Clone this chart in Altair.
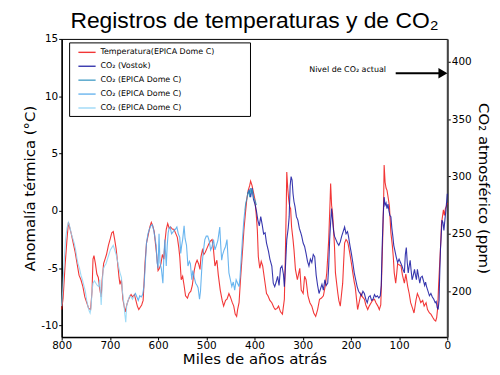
import altair as alt
import pandas as pd

TEMP_LABEL = "Temperatura(EPICA Dome C)"
VOSTOK_LABEL = "CO₂ (Vostok)"
EPICA1_LABEL = "CO₂ (EPICA Dome C)"
EPICA2_LABEL = "CO₂ (EPICA Dome C) "
EPICA3_LABEL = "CO₂ (EPICA Dome C)  "

series_labels = [TEMP_LABEL, VOSTOK_LABEL, EPICA1_LABEL, EPICA2_LABEL, EPICA3_LABEL]
series_colors = ["#f01414", "#1414a0", "#2f93c0", "#4fa8ec", "#8dd3f5"]

temp_age = [800, 797, 793, 789, 786, 783, 780, 776, 772, 768, 764, 760, 756, 752, 748, 744, 740, 737, 735, 733,
            730, 727, 724, 721, 718, 716, 713, 710, 707, 703, 699, 696, 693, 690, 687, 684, 681, 679, 676, 673,
            670, 668, 665, 662, 659, 656, 653, 649, 646, 643, 640, 637, 634, 631, 629, 627, 624, 620, 617, 614,
            611, 608, 605, 603, 600, 597, 594, 591, 588, 586, 583, 580, 577, 574, 570, 567, 563, 560, 557, 555,
            552, 549, 546, 543, 539, 536, 532, 529, 525, 522, 519, 516, 513, 511, 508, 505, 502, 498, 495, 491,
            488, 485, 482, 478, 475, 471, 467, 464, 460, 457, 453, 450, 446, 443, 440, 437, 435, 432, 429, 427,
            424, 422, 419, 416, 413, 410, 408, 405, 402, 399, 396, 394, 392, 389, 386, 383, 379, 375, 372, 368,
            364, 360, 357, 353, 350, 346, 342, 338, 336, 334, 333, 331, 329, 327, 325, 323, 320, 318, 315, 311,
            308, 306, 303, 299, 296, 293, 289, 285, 281, 277, 273, 269, 265, 261, 257, 253, 250, 248, 246, 243,
            242, 240, 238, 236, 234, 232, 229, 227, 225, 222, 220, 217, 215, 213, 210, 208, 206, 203, 201, 198,
            196, 193, 191, 188, 186, 183, 179, 176, 172, 169, 165, 162, 158, 155, 151, 148, 144, 141, 138, 136,
            134, 132, 131, 129, 127, 125, 122, 120, 117, 114, 112, 110, 107, 105, 103, 100, 96, 93, 89, 86,
            82, 79, 76, 72, 69, 65, 62, 58, 55, 51, 48, 44, 41, 37, 34, 30, 27, 24, 22, 20,
            18, 16, 14, 12, 10, 8, 6, 4, 2, 0]
temp_val = [-8.6, -7.6, -4.8, -2.5, -1.0, -1.5, -2.0, -2.8, -3.6, -4.6, -5.6, -6.0, -6.6, -7.5, -8.0, -8.5, -8.6, -7.0, -4.2, -3.9,
            -4.6, -5.5, -5.8, -6.8, -7.5, -6.0, -4.6, -4.2, -3.8, -3.0, -2.4, -1.9, -1.8, -2.5, -3.3, -4.5, -5.8, -6.4, -6.0, -7.7,
            -8.4, -8.8, -8.2, -7.8, -7.5, -7.3, -7.5, -7.3, -7.8, -8.3, -8.6, -8.4, -8.2, -7.8, -6.2, -4.5, -2.8, -2.0, -1.4, -1.0,
            -1.3, -1.8, -3.0, -3.8, -5.2, -5.0, -4.6, -3.8, -4.2, -2.8, -1.6, -1.1, -1.5, -1.4, -1.6, -1.6, -2.0, -2.3, -3.2, -4.0,
            -6.0, -5.7, -6.5, -7.4, -7.6, -7.2, -7.0, -6.5, -5.2, -4.6, -4.3, -4.6, -5.1, -4.0, -3.4, -3.8, -3.6, -3.2, -2.9, -2.6,
            -2.5, -3.4, -4.8, -4.3, -5.6, -6.9, -7.8, -8.3, -7.8, -7.7, -7.2, -7.5, -8.0, -8.3, -9.0, -9.2, -8.6, -8.0, -6.0, -4.8,
            -3.0, -1.7, -0.3, 1.0, 1.8, 2.2, 2.6, 2.2, 1.6, 1.0, -0.5, -1.7, -4.0, -5.0, -4.4, -4.8, -6.0, -7.2, -7.4, -7.8,
            -8.0, -8.4, -8.6, -8.5, -8.3, -8.8, -9.0, -7.7, -4.0, 0.5, 3.4, 2.0, 1.0, 0.4, 0.2, -1.4, -2.5, -3.4, -5.1, -6.0,
            -5.4, -5.0, -6.9, -7.2, -5.7, -6.0, -7.4, -8.0, -8.3, -8.9, -9.2, -8.6, -7.7, -7.6, -7.4, -6.5, -5.4, -4.0, -2.5, 1.0,
            2.4, 0.5, -0.2, -1.5, -3.1, -5.4, -6.5, -7.2, -7.8, -8.3, -7.5, -6.3, -4.5, -2.8, -2.5, -2.6, -2.8, -3.5, -4.0, -4.8,
            -5.4, -6.2, -6.6, -7.8, -8.6, -8.0, -7.2, -7.5, -7.7, -8.2, -8.6, -8.3, -8.0, -7.8, -7.7, -8.0, -8.3, -8.6, -8.2, -5.5,
            -2.5, 1.0, 4.0, 2.5, 2.0, 1.8, 1.0, 0.4, -1.9, -3.0, -4.0, -5.4, -6.3, -5.5, -4.6, -4.7, -4.8, -5.6, -6.3, -5.5,
            -6.6, -7.2, -8.0, -8.5, -8.9, -7.8, -7.2, -7.6, -8.0, -7.8, -8.3, -8.0, -8.6, -8.9, -9.0, -9.3, -9.5, -9.6, -9.3, -8.5,
            -6.5, -4.8, -3.2, -1.1, -0.5, 0.1, -0.4, 0.2, 0.4, 0.7]

vostok_age = [414, 411, 408, 405, 402, 399, 396, 393, 390, 387, 384, 381, 378, 375, 371, 368, 364, 361, 358, 355,
              352, 349, 346, 343, 340, 338, 336, 333, 330, 328, 326, 324, 322, 320, 318, 316, 313, 310, 307, 304,
              302, 299, 296, 293, 290, 287, 284, 281, 278, 275, 272, 269, 266, 263, 260, 257, 254, 251, 248, 246,
              244, 242, 240, 238, 236, 234, 231, 228, 225, 222, 219, 216, 213, 210, 207, 205, 202, 199, 196, 193,
              190, 187, 184, 181, 178, 175, 172, 169, 166, 163, 160, 157, 154, 151, 148, 145, 142, 139, 137, 135,
              133, 131, 129, 127, 125, 123, 121, 119, 117, 115, 113, 111, 109, 106, 103, 100, 97, 94, 91, 89,
              87, 85, 83, 81, 79, 77, 75, 73, 71, 68, 66, 64, 62, 60, 57, 55, 52, 50, 47, 45,
              43, 40, 37, 34, 31, 28, 25, 23, 21, 19, 17, 16, 14, 13, 11, 9, 7, 5, 3, 1, 0]
vostok_ppm = [285, 288, 282, 290, 280, 276, 270, 262, 257, 265, 258, 250, 251, 242, 235, 228, 222, 207, 204, 208,
              213, 205, 220, 222, 215, 204, 219, 245, 255, 265, 292, 300, 297, 285, 278, 274, 265, 262, 255, 251,
              248, 242, 239, 233, 226, 222, 228, 225, 232, 230, 214, 205, 198, 202, 206, 201, 210, 205, 207, 222,
              245, 260, 272, 262, 253, 248, 245, 242, 240, 243, 248, 252, 256, 250, 252, 248, 240, 233, 225, 216,
              210, 204, 200, 198, 196, 200, 198, 193, 190, 195, 196, 192, 193, 197, 195, 196, 194, 196, 205, 240,
              265, 282, 275, 277, 272, 276, 270, 266, 265, 255, 248, 240, 236, 230, 225, 228, 225, 222, 218, 216,
              232, 238, 225, 216, 222, 227, 218, 210, 213, 219, 214, 210, 219, 214, 207, 212, 213, 210, 205, 208,
              204, 200, 196, 198, 195, 193, 190, 191, 186, 184, 192, 210, 238, 245, 262, 260, 253, 262, 270, 280, 285]

epica3_age = [800, 798, 795, 792, 789, 786, 783, 780, 777, 774, 771, 768, 766, 763, 760, 757, 754, 751, 748, 745,
              743, 741, 739, 737, 735, 732, 729, 726, 723, 721, 719, 718, 716, 714, 711, 708, 705, 702, 699, 696,
              693, 690, 687, 684, 681, 679, 676, 674, 671, 669, 667, 665, 662, 659, 656, 653, 650]
epica3_ppm = [187, 200, 225, 245, 255, 260, 256, 250, 246, 242, 236, 228, 224, 220, 214, 210, 205, 200, 192, 186,
              183, 181, 186, 200, 207, 209, 207, 205, 204, 210, 195, 188, 205, 219, 222, 224, 228, 232, 236, 238,
              240, 236, 232, 226, 220, 216, 212, 200, 190, 180, 173, 188, 192, 196, 195, 193, 196]

epica2_age = [650, 647, 644, 641, 638, 635, 632, 629, 627, 624, 621, 618, 615, 612, 609, 607, 604, 602, 600, 598,
              596, 593, 590, 588, 586, 583, 581, 579, 577, 575, 572, 570, 567, 564, 561, 558, 555, 553, 551, 549,
              546, 544, 541, 538, 535, 533, 530, 528, 525, 522, 519, 517, 514, 512, 509, 506, 503, 500, 497, 494,
              491, 488, 485, 482, 479, 476, 474, 472, 470, 468, 466, 463, 460, 457, 455, 453, 450, 447, 444, 441,
              438, 435, 432, 430, 428, 425, 422, 420]
epica2_ppm = [196, 198, 195, 192, 196, 195, 197, 205, 220, 242, 250, 254, 257, 258, 253, 248, 240, 225, 220, 250,
              225, 219, 207, 230, 245, 222, 240, 251, 255, 256, 250, 251, 253, 254, 256, 250, 247, 233, 240, 245,
              257, 246, 240, 222, 226, 224, 210, 218, 212, 207, 205, 203, 193, 200, 222, 235, 245, 248, 248, 244,
              236, 239, 245, 236, 240, 244, 250, 256, 240, 227, 232, 236, 239, 245, 230, 216, 210, 204, 208, 201,
              210, 207, 204, 212, 225, 245, 262, 270]

epica1_age = [420, 418, 416, 414, 412, 410, 408, 406, 404, 402, 400, 398, 396]
epica1_ppm = [270, 277, 280, 285, 288, 282, 290, 286, 288, 282, 280, 278, 275]

x_ticks = [0, 100, 200, 300, 400, 500, 600, 700, 800]
temp_ticks = [-10, -5, 0, 5, 10, 15]
co2_ticks = [200, 250, 300, 350, 400]

current_co2 = 390
annotation_text = "Nivel de CO₂ actual"

frames = [
    pd.DataFrame({"age": temp_age, "value": temp_val, "series": TEMP_LABEL}),
    pd.DataFrame({"age": vostok_age, "value": vostok_ppm, "series": VOSTOK_LABEL}),
    pd.DataFrame({"age": epica1_age, "value": epica1_ppm, "series": EPICA1_LABEL}),
    pd.DataFrame({"age": epica2_age, "value": epica2_ppm, "series": EPICA2_LABEL}),
    pd.DataFrame({"age": epica3_age, "value": epica3_ppm, "series": EPICA3_LABEL}),
]
df = pd.concat(frames, ignore_index=True)
temp_df = df[df.series == TEMP_LABEL]
co2_df = df[df.series != TEMP_LABEL]

FONT = "DejaVu Sans"

x_enc = alt.X("age:Q",
              scale=alt.Scale(domain=[0, 800], reverse=True, nice=False, zero=False),
              axis=alt.Axis(values=x_ticks, title="Miles de años atrás", grid=False,
                            tickSize=3, labelPadding=0, titlePadding=1, labelFlush=False,
                            labelFont=FONT, labelFontSize=10.5, titleFont=FONT, titleFontSize=15,
                            titleFontWeight="normal", domainColor="black", tickColor="black",
                            labelColor="black", titleColor="black", domainWidth=1.5))

color_enc = alt.Color("series:N",
                      scale=alt.Scale(domain=series_labels, range=series_colors),
                      legend=alt.Legend(title=None, orient="none", legendX=16, legendY=4,
                                        symbolType="stroke", symbolSize=300, symbolStrokeWidth=1.4,
                                        labelFont=FONT, labelFontSize=8, labelColor="black",
                                        rowPadding=0, padding=0, labelOffset=4))

legend_box = alt.Chart(alt.Data(values=[{}])).mark_rect(
    fill="white", stroke="black", strokeWidth=1
).encode(x=alt.value(8), x2=alt.value(190), y=alt.value(4), y2=alt.value(78))

temp_line = alt.Chart(temp_df).mark_line(strokeWidth=1.1, opacity=0.85).encode(
    x=x_enc,
    y=alt.Y("value:Q",
            scale=alt.Scale(domain=[-11, 15], nice=False, zero=False),
            axis=alt.Axis(values=temp_ticks, title="Anomalía térmica (°C)", grid=False,
                          orient="left", tickSize=3, labelPadding=1, titlePadding=3,
                          labelExpr="'' + datum.value",
                          labelFont=FONT, labelFontSize=10.5, titleFont=FONT, titleFontSize=15,
                          titleFontWeight="normal", domainColor="black", tickColor="black",
                          labelColor="black", titleColor="black", domainWidth=1.5)),
    color=color_enc,
)

co2_y = alt.Y("value:Q",
              scale=alt.Scale(domain=[160, 420], nice=False, zero=False),
              axis=alt.Axis(values=co2_ticks, title="CO₂ atmosférico (ppm)", grid=False,
                            orient="right", tickSize=3, labelPadding=1, titlePadding=4,
                            labelFont=FONT, labelFontSize=10.5, titleFont=FONT, titleFontSize=15,
                            titleFontWeight="normal", domainColor="#444444", tickColor="black",
                            labelColor="black", titleColor="black", domainWidth=2))

co2_lines = alt.Chart(co2_df).mark_line(strokeWidth=1.1, opacity=0.85).encode(
    x=x_enc, y=co2_y, color=color_enc,
)

ann_df = pd.DataFrame({"x0": [107], "x1": [15], "head": [9], "tx": [127], "ppm": [current_co2],
                       "label": [annotation_text]})

arrow_line = alt.Chart(ann_df).mark_rule(color="black", strokeWidth=2).encode(
    x=alt.X("x0:Q"), x2="x1:Q", y=alt.Y("ppm:Q"))
arrow_head = alt.Chart(ann_df).mark_point(shape="triangle-right", filled=True, color="black",
                                          opacity=1, size=110).encode(
    x=alt.X("head:Q"), y=alt.Y("ppm:Q"))
arrow_text = alt.Chart(ann_df).mark_text(align="right", baseline="middle", dy=-3, font=FONT,
                                         fontSize=8, color="black").encode(
    x=alt.X("tx:Q"), y=alt.Y("ppm:Q"), text="label:N")

co2_layer = alt.layer(co2_lines, arrow_line, arrow_head, arrow_text)

chart = alt.layer(legend_box, temp_line, co2_layer).resolve_scale(
    y="independent"
).properties(
    width=388, height=300,
    title=alt.TitleParams(text="Registros de temperaturas y de CO₂", font="Liberation Sans",
                          fontSize=23, fontWeight="normal", color="black", anchor="middle",
                          offset=1),
    autosize=alt.AutoSizeParams(type="none"),
    padding={"left": 54, "top": 30, "right": 45, "bottom": 30},
).configure_view(stroke="black", strokeWidth=1)

chart.save("out.html", embed_options={"renderer": "svg", "actions": False})
